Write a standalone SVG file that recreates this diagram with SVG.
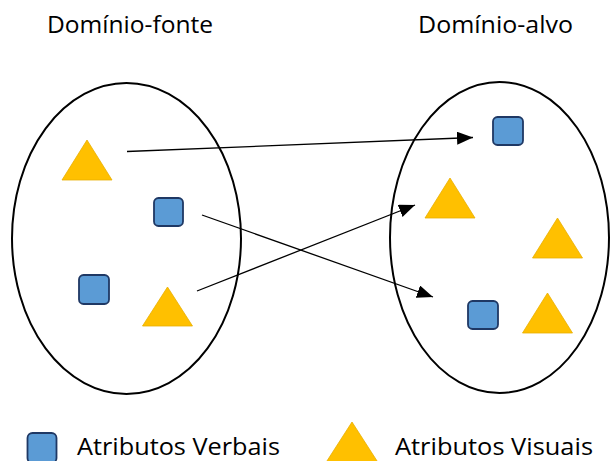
<svg xmlns="http://www.w3.org/2000/svg" width="611" height="461" viewBox="0 0 611 461">
  <defs>
    <style>
      .domain { fill: none; stroke: #000; stroke-width: 2; }
      .verbal { fill: #5B9BD5; stroke: #1F3864; stroke-width: 1.8; }
      .visual { fill: #FFC000; stroke: #E8AE00; stroke-width: 0.8; }
      .link { fill: none; stroke: #000; stroke-width: 1.3; marker-end: url(#arrow); }
      .title { font-family: "Open Sans", "Liberation Sans", sans-serif; font-size: 23px; fill: #000; }
      .legend { font-family: "Open Sans", "Liberation Sans", sans-serif; font-size: 24px; fill: #000; }
    </style>
    <marker id="arrow" markerUnits="userSpaceOnUse" markerWidth="17" markerHeight="13" refX="16" refY="6.5" orient="auto">
      <path d="M0,0 L16,6.5 L0,13 Z" fill="#000"/>
    </marker>
  </defs>

  <!-- headings -->
  <text class="title" x="47" y="33" textLength="166" lengthAdjust="spacingAndGlyphs">Domínio-fonte</text>
  <text class="title" x="418" y="33" textLength="155" lengthAdjust="spacingAndGlyphs">Domínio-alvo</text>

  <!-- source domain -->
  <g id="source-domain">
    <ellipse class="domain" cx="126.5" cy="238.5" rx="114.5" ry="155.5"/>
    <polygon id="src-visual-1" class="visual" points="87,140 62,180 112,180"/>
    <rect id="src-verbal-1" class="verbal" x="154" y="198" width="29" height="28" rx="4.5"/>
    <rect id="src-verbal-2" class="verbal" x="79" y="275" width="30" height="29" rx="4.5"/>
    <polygon id="src-visual-2" class="visual" points="167.5,287 142.5,326 192.5,326"/>
  </g>

  <!-- target domain -->
  <g id="target-domain">
    <ellipse class="domain" cx="499.5" cy="237.5" rx="109.5" ry="155.5"/>
    <rect id="tgt-verbal-1" class="verbal" x="493" y="117" width="30" height="28" rx="4.5"/>
    <polygon id="tgt-visual-1" class="visual" points="450,178 425,218 475,218"/>
    <polygon id="tgt-visual-2" class="visual" points="557.5,218 532.5,258 582.5,258"/>
    <rect id="tgt-verbal-2" class="verbal" x="468" y="301" width="30" height="28" rx="4.5"/>
    <polygon id="tgt-visual-3" class="visual" points="547.5,293 522.5,333 572.5,333"/>
  </g>

  <!-- mappings -->
  <g id="connectors">
    <line class="link" x1="127" y1="151.5" x2="473" y2="137.5"/>
    <line class="link" x1="202" y1="215" x2="433" y2="297"/>
    <line class="link" x1="197" y1="291" x2="415" y2="205"/>
  </g>

  <!-- legend -->
  <g id="legend-verbal">
    <rect class="verbal" x="27.5" y="433" width="29" height="30" rx="5"/>
    <text class="legend" x="77" y="454.5" textLength="203" lengthAdjust="spacingAndGlyphs">Atributos Verbais</text>
  </g>
  <g id="legend-visual">
    <polygon class="visual" points="352,422 325,464 379,464"/>
    <text class="legend" x="395" y="454.5" textLength="198" lengthAdjust="spacingAndGlyphs">Atributos Visuais</text>
  </g>
</svg>
